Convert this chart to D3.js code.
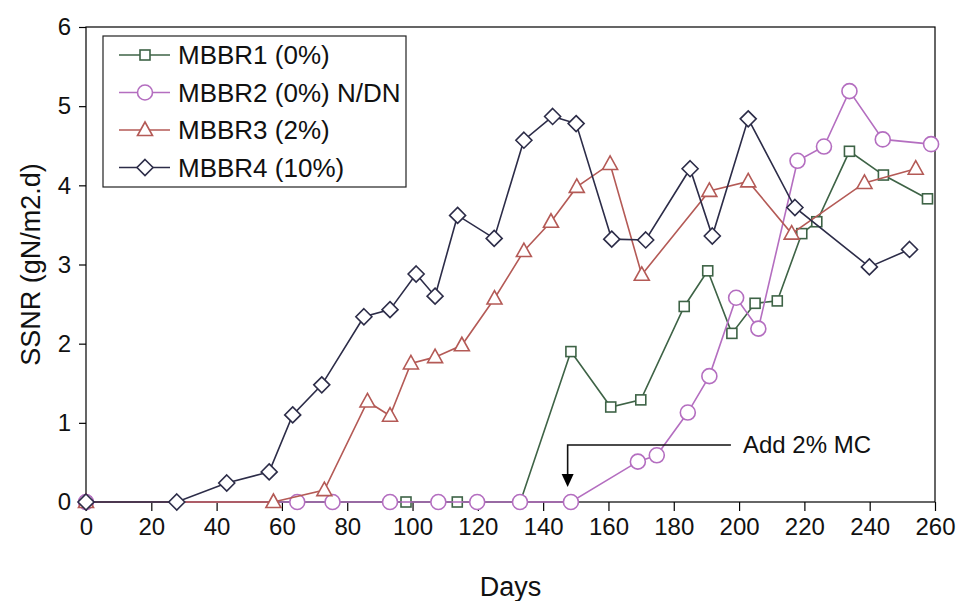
<!DOCTYPE html>
<html>
<head>
<meta charset="utf-8">
<script src="https://cdn.jsdelivr.net/npm/d3@7"></script>
<style>
  body { margin: 0; background: #fff; }
  svg { display: block; font-family: 'Liberation Sans', Arial, sans-serif; }
</style>
</head>
<body>
<svg id="chart" width="960" height="601"></svg>
<script>
// Series data: [day, SSNR]
const mbbr1 = [[0, 0], [98, 0], [113.7, 0], [133, 0], [148.5, 1.9], [160.7, 1.2], [169.9, 1.29], [183.2, 2.47], [190.4, 2.92], [197.8, 2.13], [204.9, 2.51], [211.7, 2.54], [219.2, 3.39], [223.8, 3.54], [233.8, 4.43], [244.2, 4.13], [257.7, 3.83]]
const mbbr2 = [[0, 0], [64.7, 0], [75.5, 0], [93.1, 0], [107.9, 0], [119.8, 0], [132.9, 0], [148.5, 0], [169, 0.51], [174.8, 0.59], [184.3, 1.13], [190.9, 1.59], [199.1, 2.58], [205.9, 2.19], [217.9, 4.31], [226, 4.49], [233.8, 5.19], [244, 4.58], [258.8, 4.52]]
const mbbr3 = [[0, 0], [57.4, 0], [73, 0.15], [86.2, 1.27], [93.1, 1.09], [99.5, 1.75], [106.9, 1.83], [115.1, 1.98], [125.1, 2.57], [134.1, 3.17], [142.4, 3.54], [150.3, 3.98], [160.5, 4.27], [170.2, 2.87], [190.9, 3.93], [202.8, 4.05], [216.1, 3.39], [238.4, 4.03], [254.1, 4.21]]
const mbbr4 = [[0, 0], [27.8, 0], [43.1, 0.24], [56.1, 0.38], [63.3, 1.1], [72.2, 1.48], [85.1, 2.34], [93.1, 2.43], [101.1, 2.88], [106.9, 2.6], [113.8, 3.62], [125, 3.33], [134.1, 4.57], [142.9, 4.87], [150.1, 4.78], [161, 3.32], [171.4, 3.31], [185, 4.21], [191.8, 3.36], [202.8, 4.84], [217.1, 3.72], [239.9, 2.97], [252.2, 3.19]]

const seriesNames = ['MBBR1 (0%)', 'MBBR2 (0%) N/DN', 'MBBR3 (2%)', 'MBBR4 (10%)']
const seriesColors = ['#3e6346', '#b46ec0', '#b45a56', '#2c2c48']
const seriesSymbols = ['square', 'circle', 'triangle', 'diamond']
const xTicks = [0, 20, 40, 60, 80, 100, 120, 140, 160, 180, 200, 220, 240, 260]
const yTicks = [0, 1, 2, 3, 4, 5, 6]
const annotation = { day: 147.5, yTop: 0.72, yTip: 0.19, endDay: 197.5, label: 'Add 2% MC' }

const allSeries = [mbbr1, mbbr2, mbbr3, mbbr4]

const margin = { top: 27, right: 25, bottom: 99, left: 86 }
const width = 960 - margin.left - margin.right
const height = 601 - margin.top - margin.bottom

const svg = d3.select('#chart')
const g = svg.append('g').attr('transform', `translate(${margin.left},${margin.top})`)

const x = d3.scaleLinear().domain([0, 260]).range([0, width])
const y = d3.scaleLinear().domain([0, 6]).range([height, 0])

// plot frame
g.append('rect')
  .attr('x', 0).attr('y', 0)
  .attr('width', width).attr('height', height)
  .attr('fill', 'none')
  .attr('stroke', '#000')
  .attr('stroke-width', 1.2)

const xAxis = g.append('g')
  .attr('transform', `translate(0,${height})`)
  .call(d3.axisBottom(x).tickValues(xTicks).tickSize(9).tickPadding(7))
xAxis.select('.domain').remove()
xAxis.selectAll('line').attr('stroke', '#000').attr('stroke-width', 1.2)
xAxis.selectAll('text').attr('font-size', 24).attr('fill', '#111').attr('font-family', null)

const yAxis = g.append('g')
  .call(d3.axisLeft(y).tickValues(yTicks).tickFormat(d3.format('d')).tickSize(7).tickPadding(8))
yAxis.select('.domain').remove()
yAxis.selectAll('line').attr('stroke', '#000').attr('stroke-width', 1.2)
yAxis.selectAll('text').attr('font-size', 24).attr('fill', '#111').attr('font-family', null)

svg.append('text')
  .attr('x', margin.left + width / 2)
  .attr('y', 596)
  .attr('text-anchor', 'middle')
  .attr('font-size', 27)
  .attr('fill', '#111')
  .text('Days')

svg.append('text')
  .attr('transform', `translate(40,${margin.top + height / 2}) rotate(-90)`)
  .attr('text-anchor', 'middle')
  .attr('font-size', 27)
  .attr('fill', '#111')
  .text('SSNR (gN/m2.d)')

// marker drawing helper
function drawMarker (sel, symbol, color) {
  if (symbol === 'square') {
    sel.append('rect').attr('x', -5).attr('y', -5).attr('width', 10).attr('height', 10)
  } else if (symbol === 'circle') {
    sel.append('circle').attr('r', 7.5)
  } else if (symbol === 'triangle') {
    sel.append('path').attr('d', 'M0,-8L7.5,5.5L-7.5,5.5Z')
  } else {
    sel.append('path').attr('d', 'M0,-8L8,0L0,8L-8,0Z')
  }
  sel.selectAll('*')
    .attr('fill', '#fff')
    .attr('stroke', color)
    .attr('stroke-width', 1.6)
}

const line = d3.line()
  .x(d => x(d[0]))
  .y(d => y(d[1]))

allSeries.forEach((data, i) => {
  const sg = g.append('g')
  sg.append('path')
    .datum(data)
    .attr('fill', 'none')
    .attr('stroke', seriesColors[i])
    .attr('stroke-width', 1.6)
    .attr('d', line)
  sg.selectAll('g.pt')
    .data(data)
    .join('g')
    .attr('class', 'pt')
    .attr('transform', d => `translate(${x(d[0])},${y(d[1])})`)
    .each(function () { drawMarker(d3.select(this), seriesSymbols[i], seriesColors[i]) })
})

// annotation arrow
const ax = x(annotation.day)
g.append('path')
  .attr('d', `M${x(annotation.endDay)},${y(annotation.yTop)}H${ax}V${y(annotation.yTip) - 12}`)
  .attr('fill', 'none')
  .attr('stroke', '#111')
  .attr('stroke-width', 1.6)
g.append('path')
  .attr('d', `M${ax - 6},${y(annotation.yTip) - 13}L${ax + 6},${y(annotation.yTip) - 13}L${ax},${y(annotation.yTip)}Z`)
  .attr('fill', '#000')
g.append('text')
  .attr('x', x(annotation.endDay) + 12)
  .attr('y', y(annotation.yTop))
  .attr('dy', '0.35em')
  .attr('font-size', 24)
  .attr('fill', '#111')
  .text(annotation.label)

// legend
const legend = svg.append('g').attr('transform', 'translate(103,36)')
legend.append('rect')
  .attr('width', 303).attr('height', 151)
  .attr('fill', '#fff')
  .attr('stroke', '#222')
  .attr('stroke-width', 1.2)

seriesNames.forEach((name, i) => {
  const row = legend.append('g').attr('transform', `translate(0,${19 + i * 37.5})`)
  row.append('line')
    .attr('x1', 16).attr('x2', 67)
    .attr('stroke', seriesColors[i])
    .attr('stroke-width', 1.6)
  const m = row.append('g').attr('transform', 'translate(42,0)')
  drawMarker(m, seriesSymbols[i], seriesColors[i])
  row.append('text')
    .attr('x', 75)
    .attr('dy', '0.35em')
    .attr('font-size', 26)
    .attr('fill', '#111')
    .text(name)
})
</script>
</body>
</html>
